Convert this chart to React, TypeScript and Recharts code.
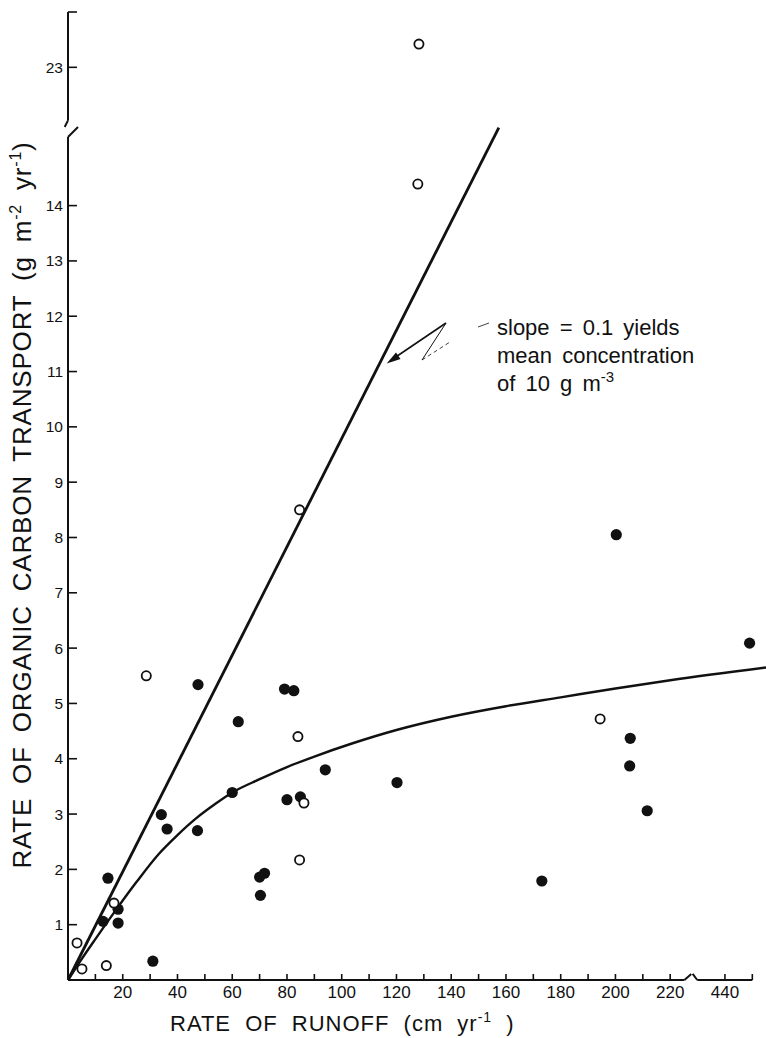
import React from 'react';
import { ComposedChart, XAxis, YAxis, Scatter, Line, ReferenceLine } from 'recharts';

// runoff (cm yr-1) vs organic carbon transport (g m-2 yr-1)
const openRunoff = [3.3, 5.1, 14.0, 16.8, 28.6, 84.0, 86.2, 84.6, 84.6, 127.8, 128.2, 194.4];
const openCarbon = [0.67, 0.2, 0.26, 1.39, 5.5, 4.4, 3.2, 2.17, 8.5, 14.39, 23.42, 4.72];

const solidRunoff = [
  14.6, 12.8, 18.3, 18.3, 31.0, 34.1, 36.2, 47.3, 47.5, 62.2, 60.0, 79.1, 82.5,
  80.0, 84.9, 94.0, 70.0, 71.8, 70.3, 120.2, 173.1, 200.3, 205.4, 205.2, 211.6, 449,
];
const solidCarbon = [
  1.84, 1.06, 1.28, 1.03, 0.34, 2.99, 2.73, 2.7, 5.34, 4.67, 3.39, 5.26, 5.23,
  3.26, 3.31, 3.8, 1.86, 1.93, 1.53, 3.57, 1.79, 8.05, 4.37, 3.87, 3.06, 6.09,
];

// hand-drawn saturation curve
const curveRunoff = [0, 5, 10, 18, 25, 33, 40, 47, 54, 60, 70, 80, 90, 104, 120, 140, 160, 180, 200, 220, 255];
const curveCarbon = [0, 0.38, 0.74, 1.3, 1.77, 2.27, 2.62, 2.93, 3.19, 3.39, 3.63, 3.85, 4.04, 4.28, 4.52, 4.76, 4.95, 5.11, 5.27, 5.42, 5.65];

// slope = 0.1 line
const slopeRunoff = [0, 157.4];
const slopeCarbon = [0, 15.41];

const xTicks = [10, 20, 30, 40, 50, 60, 70, 80, 90, 100, 110, 120, 130, 140, 150, 160, 170, 180, 190, 200, 210, 220, 240, 250];
const yTicks = [1, 2, 3, 4, 5, 6, 7, 8, 9, 10, 11, 12, 13, 14, 16.5, 17.5];

// broken axes: runoff above 300 is drawn 200 units to the left,
// transport above 20 is drawn 6.5 units lower
const plotX = (v: number) => (v > 300 ? v - 200 : v);
const plotY = (v: number) => (v > 20 ? v - 6.5 : v);

const pts = (xs: number[], ys: number[]) => xs.map((x, i) => ({ x: plotX(x), y: plotY(ys[i]) }));

const openData = pts(openRunoff, openCarbon);
const solidData = pts(solidRunoff, solidCarbon);
const curveData = pts(curveRunoff, curveCarbon);
const slopeData = pts(slopeRunoff, slopeCarbon);

const ink = '#111';
const font = '"Liberation Sans", Arial, sans-serif';

const xLabel = (v: number) => {
  if (v === 240) return '440';
  if (v <= 220 && v % 20 === 0) return String(v);
  return '';
};
const yLabel = (v: number) => {
  if (v === 16.5) return '23';
  if (v <= 14) return String(v);
  return '';
};

const XTick = (props: any) => {
  const { x, y, payload } = props;
  const label = xLabel(payload.value);
  return (
    <g>
      <line x1={x} y1={y} x2={x} y2={y - 6} stroke={ink} strokeWidth={1.6} />
      {label && (
        <text x={x} y={y + 18} textAnchor="middle" fontSize={17} fontFamily={font} fill={ink}>
          {label}
        </text>
      )}
    </g>
  );
};

const YTick = (props: any) => {
  const { x, y, payload } = props;
  const label = yLabel(payload.value);
  return (
    <g>
      <line x1={x} y1={y} x2={x + 9} y2={y} stroke={ink} strokeWidth={1.6} />
      {label && (
        <text x={x - 5} y={y + 5.5} textAnchor="end" fontSize={15.5} fontFamily={font} fill={ink}>
          {label}
        </text>
      )}
    </g>
  );
};

const OpenDot = (p: any) => <circle cx={p.cx} cy={p.cy} r={4.6} fill="#fff" stroke={ink} strokeWidth={1.8} />;
const SolidDot = (p: any) => <circle cx={p.cx} cy={p.cy} r={5.6} fill={ink} />;

// axis pieces with the break marks
const axisSegments = [
  [{ x: 0, y: 0 }, { x: 0, y: 15.24 }],
  [{ x: 0, y: 15.24 }, { x: 3.65, y: 15.42 }],
  [{ x: -1.2, y: 15.42 }, { x: 0, y: 15.54 }],
  [{ x: 0, y: 15.54 }, { x: 0, y: 17.5 }],
  [{ x: 0, y: 0 }, { x: 225.2, y: 0 }],
  [{ x: 225.2, y: 0 }, { x: 227.7, y: 0.11 }],
  [{ x: 228.2, y: 0.11 }, { x: 229.9, y: 0 }],
  [{ x: 229.9, y: 0 }, { x: 250, y: 0 }],
];

export default function App() {
  return (
    <div style={{ position: 'absolute', left: 0, top: 0, width: 766, height: 1038, background: '#fff' }}>
      <ComposedChart width={766} height={1038} margin={{ top: 12, right: 0, left: 0, bottom: 0 }}>
        <XAxis
          dataKey="x"
          type="number"
          domain={[0, 255]}
          ticks={xTicks}
          interval={0}
          height={58}
          axisLine={false}
          tickLine={false}
          tickSize={0}
          tickMargin={0}
          tick={<XTick />}
        />
        <YAxis
          dataKey="y"
          type="number"
          domain={[0, 17.5]}
          ticks={yTicks}
          interval={0}
          width={68}
          axisLine={false}
          tickLine={false}
          tickSize={0}
          tickMargin={0}
          tick={<YTick />}
        />
        {axisSegments.map((seg, i) => (
          <ReferenceLine key={i} segment={seg} stroke={ink} strokeWidth={2} ifOverflow="visible" />
        ))}
        <Line data={slopeData} dataKey="y" type="linear" stroke={ink} strokeWidth={2.8} dot={false} isAnimationActive={false} />
        <Line data={curveData} dataKey="y" type="monotone" stroke={ink} strokeWidth={2.4} dot={false} isAnimationActive={false} />
        <Scatter data={solidData} dataKey="y" shape={<SolidDot />} isAnimationActive={false} />
        <Scatter data={openData} dataKey="y" shape={<OpenDot />} isAnimationActive={false} />
      </ComposedChart>

      <svg width={766} height={1038} style={{ position: 'absolute', left: 0, top: 0, pointerEvents: 'none' }}>
        <text
          x={31}
          y={505}
          transform="rotate(-90 31 505)"
          textAnchor="middle"
          fontSize={26}
          fontFamily={font}
          fill={ink}
          letterSpacing={0.8}
          wordSpacing={6}
        >
          RATE OF ORGANIC CARBON TRANSPORT (g m
          <tspan fontSize={16} dy={-10}>-2</tspan>
          <tspan dy={10}> yr</tspan>
          <tspan fontSize={16} dy={-10}>-1</tspan>
          <tspan dy={10}>)</tspan>
        </text>
        <text x={170} y={1031} fontSize={22} fontFamily={font} fill={ink} letterSpacing={1} wordSpacing={7}>
          RATE OF RUNOFF (cm yr
          <tspan fontSize={14} dy={-9}>-1</tspan>
          <tspan dy={9}> )</tspan>
        </text>

        <g fontSize={22} fontFamily={font} fill={ink}>
          <text x={497} y={335} wordSpacing={4}>slope = 0.1 yields</text>
          <text x={497} y={363} wordSpacing={4}>mean concentration</text>
          <text x={497} y={391} wordSpacing={4}>
            of 10 g m<tspan fontSize={15} dy={-9}>-3</tspan>
          </text>
        </g>
        <path d="M446,323 L395,357.5" stroke={ink} strokeWidth={1.6} fill="none" />
        <polygon points="386.7,363.5 400.5,359 396,352.4" fill={ink} />
        <path d="M446,323 L422,360" stroke={ink} strokeWidth={1} fill="none" />
        <path d="M422,360 L450,342" stroke={ink} strokeWidth={0.8} strokeDasharray="4 3" fill="none" />
        <path d="M478,327 L489,323" stroke={ink} strokeWidth={0.8} fill="none" />
      </svg>
    </div>
  );
}
